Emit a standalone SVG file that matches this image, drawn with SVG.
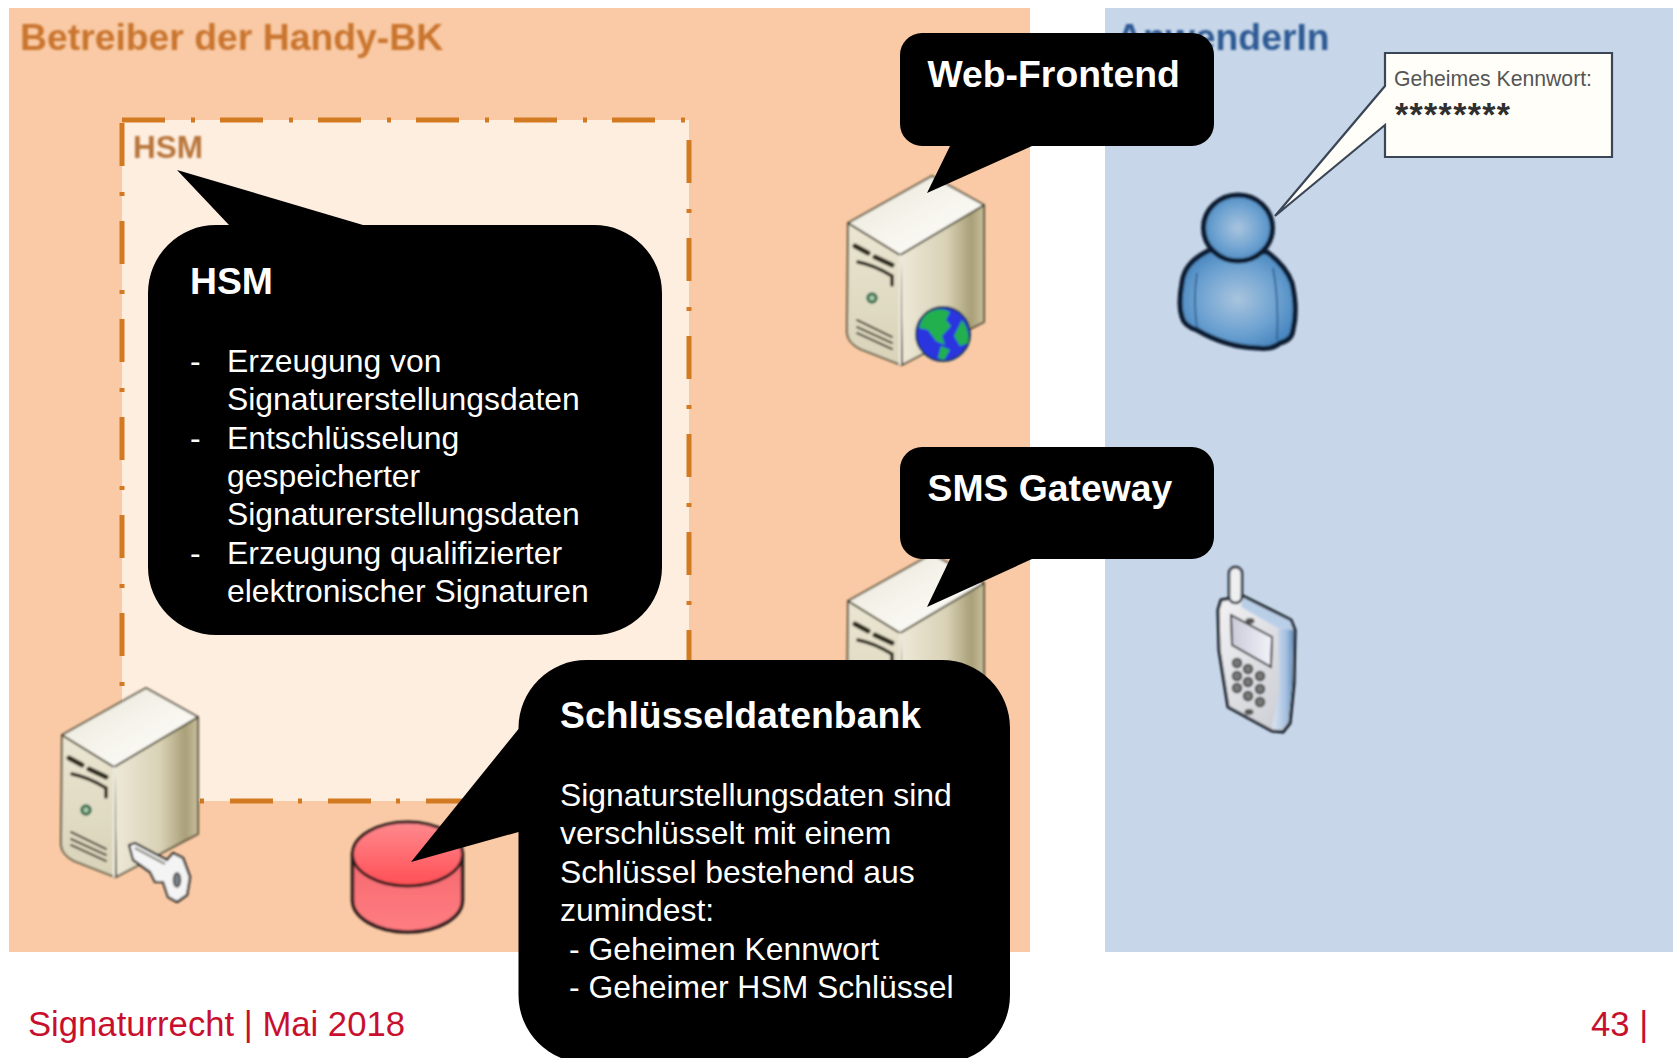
<svg xmlns="http://www.w3.org/2000/svg" xmlns:xlink="http://www.w3.org/1999/xlink" width="1677" height="1058" viewBox="0 0 1677 1058">
<style>
text{font-family:"Liberation Sans",Arial,sans-serif}
.h{font-size:37.33px;font-weight:700;fill:#fff}
.b{font-size:31.9px;fill:#fff}
.f{font-size:34.67px;fill:#C8102E}
.d{stroke:#D27A22;stroke-width:5;fill:none;stroke-dasharray:43 26 4 25}
.co{fill:#000}
</style>
<defs>
<filter id="soft" x="-10%" y="-10%" width="120%" height="120%"><feGaussianBlur stdDeviation="0.8"/></filter>
<filter id="soft2" x="-5%" y="-20%" width="110%" height="140%"><feGaussianBlur stdDeviation="0.8"/></filter>
<filter id="softl" filterUnits="userSpaceOnUse" x="100" y="100" width="610" height="720"><feGaussianBlur stdDeviation="0.7"/></filter>
<linearGradient id="srvTop" x1="0" y1="0" x2="1" y2="1"><stop offset="0" stop-color="#E9E5D6"/><stop offset=".5" stop-color="#F6F4EC"/><stop offset="1" stop-color="#FFFFFF"/></linearGradient>
<linearGradient id="srvFront" x1="0" y1="0" x2="0" y2="1"><stop offset="0" stop-color="#EBE6D2"/><stop offset="1" stop-color="#D8D2B8"/></linearGradient>
<linearGradient id="srvSide" x1="0" y1="0" x2="1" y2="0"><stop offset="0" stop-color="#EEE9D8"/><stop offset=".55" stop-color="#D9D2B6"/><stop offset=".85" stop-color="#A99F78"/><stop offset="1" stop-color="#C8BF9E"/></linearGradient>
<radialGradient id="pers" cx=".5" cy=".5" r=".6"><stop offset="0" stop-color="#A9C4DE"/><stop offset=".6" stop-color="#6AA0D0"/><stop offset="1" stop-color="#3F7FBA"/></radialGradient>
<linearGradient id="dbTop" x1="0" y1="0" x2="0" y2="1"><stop offset="0" stop-color="#FF8A8E"/><stop offset="1" stop-color="#FF4F55"/></linearGradient>
<linearGradient id="dbBody" x1="0" y1="0" x2="0" y2="1"><stop offset="0" stop-color="#F5686E"/><stop offset="1" stop-color="#FF7E82"/></linearGradient>
<linearGradient id="phFront" x1="0" y1="0" x2="1" y2="1"><stop offset="0" stop-color="#F2F2F4"/><stop offset="1" stop-color="#C8CAD0"/></linearGradient>
<linearGradient id="phSide" x1="0" y1="0" x2="1" y2="0"><stop offset="0" stop-color="#DDE6F2"/><stop offset=".7" stop-color="#A3BEDE"/><stop offset="1" stop-color="#5F8FBF"/></linearGradient>
<linearGradient id="phScr" x1="0" y1="0" x2="1" y2="0"><stop offset="0" stop-color="#C9CBD8"/><stop offset="1" stop-color="#F2F2FA"/></linearGradient>
<symbol id="server" overflow="visible">
<g stroke="#4A452F" stroke-width="1.8" stroke-linejoin="round">
<path d="M52 82L136 32V149L54 192Z" fill="url(#srvSide)"/>
<path d="M0 50L52 82L53 192L12 176Q0 170 -1 160Z" fill="url(#srvFront)"/>
<path d="M0 50L84 3L136 32L52 82Z" fill="url(#srvTop)"/>
</g>
<path d="M52 82V192" stroke="#FBFAF3" stroke-width="1.8"/>
<g fill="none" stroke="#2E2A1C" stroke-linecap="round">
<path d="M7 73L20 80M27 84L44 92" stroke-width="5"/>
<path d="M10 89Q26 92 44 103V112" stroke-width="3.6"/>
<path d="M9 147L44 164M9 154L44 170M9 160L44 176" stroke-width="2" stroke="#4E4A38"/>
</g>
<circle cx="24" cy="125" r="4.200" fill="#A8C8A8" stroke="#2F6B4A" stroke-width="3"/>
</symbol>
</defs>

<g id="panel-betreiber">
<rect x="9" y="8" width="1021" height="944" fill="#F9CAA5"/>
<text x="20" y="50" font-size="37.33" font-weight="700" fill="#C9752F" filter="url(#soft2)">Betreiber der Handy-BK</text>
</g>
<g id="panel-anwenderin">
<rect x="1105" y="8" width="568" height="944" fill="#C7D6E8"/>
<text x="1116" y="50" font-size="37.33" font-weight="700" fill="#2E5A94" filter="url(#soft2)">AnwenderIn</text>
</g>

<g id="hsm-box">
<rect x="122" y="120" width="567" height="681" fill="#FEEEE0"/>
<g filter="url(#softl)">
<line class="d" x1="122" y1="120" x2="689" y2="120"/>
<line class="d" x1="689" y1="140" x2="689" y2="801"/>
<line class="d" x1="665" y1="801" x2="122" y2="801"/>
<line class="d" x1="122" y1="123" x2="122" y2="801"/>
</g>
<text x="133" y="158" font-size="31.5" font-weight="700" fill="#B8753A" filter="url(#soft2)">HSM</text>
</g>

<g id="server-web" filter="url(#soft)">
<use href="#server" x="848" y="173"/>
<circle cx="943" cy="334" r="27" fill="#2A35E0" stroke="#1B3A4A" stroke-width="2"/>
<path d="M928 313Q940 306 950 312L946 320L951 326L942 336L945 345L936 341L928 330L919 328Q921 318 928 313ZM962 320Q970 330 968 343L960 346L954 336ZM941 346L950 350L944 360L938 358Z" fill="#22B04F"/>
</g>

<g id="server-sms" filter="url(#soft)">
<use href="#server" x="848" y="551"/>
</g>

<g id="server-hsm" filter="url(#soft)">
<use href="#server" x="62" y="685"/>
<path d="M129 845L135 843L167 860L173 853L183 858L190 877L187 895L177 902L168 897L163 882L155 882L150 872L133 860Z" fill="#F4F4F4" stroke="#1E1E1E" stroke-width="2.200" stroke-linejoin="round"/>
<path d="M135 848L165 864" stroke="#8A8A80" stroke-width="2.500"/>
<ellipse cx="177" cy="880" rx="3.500" ry="7" fill="#7A7F86" stroke="#333" stroke-width="1.500"/>
</g>

<g id="database" filter="url(#soft)">
<path d="M352.500 854V900A55 32 0 0 0 462.500 900V854Z" fill="url(#dbBody)" stroke="#2B1A1A" stroke-width="3.500"/>
<ellipse cx="407.500" cy="854" rx="55" ry="32" fill="url(#dbTop)" stroke="#2B1A1A" stroke-width="3"/>
</g>

<g id="person" filter="url(#soft)">
<path d="M1210 250Q1184 262 1182 283Q1178 305 1182 317Q1184 326 1197 330Q1226 347 1257 348Q1272 350 1280 343Q1292 340 1293 330Q1298 310 1292 283Q1286 266 1267 252Z" fill="url(#pers)" stroke="#0A1A30" stroke-width="5" stroke-linejoin="round"/>
<path d="M1197 273Q1193 300 1197 328M1273 268Q1279 300 1277 340" fill="none" stroke="#2A5A8C" stroke-width="1.500"/>
<ellipse cx="1238" cy="228" rx="34.500" ry="33" fill="url(#pers)" stroke="#0A1A30" stroke-width="5"/>
</g>

<g id="phone" filter="url(#soft)">
<path d="M1221 600L1243 596L1291 620L1295 630L1294 683L1290 723L1283 732L1272 731L1228 707L1219 650L1218 610Z" fill="url(#phFront)" stroke="#0E1622" stroke-width="3" stroke-linejoin="round"/>
<path d="M1243 598L1290 621L1293 630L1278 628L1241 607Z" fill="#B9CFE8"/>
<path d="M1278 628L1293 630L1292 683L1288 722L1281 730L1272 729L1279 690Z" fill="url(#phSide)"/>
<rect x="1229" y="567" width="13" height="36" rx="6.500" fill="#EEF0F0" stroke="#1A2230" stroke-width="2.500"/>
<path d="M1231 615L1272 637L1271 667L1232 645Z" fill="url(#phScr)" stroke="#141414" stroke-width="1.800"/>
<ellipse cx="1250" cy="621" rx="4.500" ry="3" fill="#555"/>
<g fill="#777" stroke="#333" stroke-width="1.500">
<circle cx="1237" cy="663" r="4.500"/><circle cx="1248" cy="669" r="4.500"/><circle cx="1260" cy="676" r="4.500"/>
<circle cx="1237" cy="676" r="4.500"/><circle cx="1248" cy="682" r="4.500"/><circle cx="1260" cy="689" r="4.500"/>
<circle cx="1237" cy="688" r="4.500"/><circle cx="1248" cy="696" r="4.500"/><circle cx="1260" cy="702" r="4.500"/>
</g>
<ellipse cx="1249" cy="712" rx="4.500" ry="3" fill="#555"/>
</g>

<g id="password-callout">
<path d="M1385 53H1612V157H1385V125L1275 216L1385 86Z" fill="#FFFEF8" stroke="#3A4656" stroke-width="2.200"/>
<text x="1394" y="86" font-size="22" fill="#555" textLength="198" lengthAdjust="spacingAndGlyphs">Geheimes Kennwort:</text>
<text x="1395" y="126" font-size="34" font-weight="700" fill="#2F2F2F" textLength="115" lengthAdjust="spacing">********</text>
</g>

<g id="callout-web">
<path class="co" d="M922 33H1192A22 22 0 0 1 1214 55V124A22 22 0 0 1 1192 146H1032L927 193L950 146H922A22 22 0 0 1 900 124V55A22 22 0 0 1 922 33Z"/>
<text class="h" x="927.500" y="87">Web-Frontend</text>
</g>
<g id="callout-sms">
<path class="co" d="M922 447H1192A22 22 0 0 1 1214 469V537A22 22 0 0 1 1192 559H1032L927 607L950 559H922A22 22 0 0 1 900 537V469A22 22 0 0 1 922 447Z"/>
<text class="h" x="927.500" y="501">SMS Gateway</text>
</g>
<g id="callout-hsm">
<path class="co" d="M216 225H229L177 170L363 225H594A68 68 0 0 1 662 293V567A68 68 0 0 1 594 635H216A68 68 0 0 1 148 567V293A68 68 0 0 1 216 225Z"/>
<text class="h" x="190" y="294">HSM</text>
<g class="b">
<text x="190" y="372">-</text><text x="227" y="372">Erzeugung von</text>
<text x="227" y="410">Signaturerstellungsdaten</text>
<text x="190" y="449">-</text><text x="227" y="449">Entschlüsselung</text>
<text x="227" y="487">gespeicherter</text>
<text x="227" y="525">Signaturerstellungsdaten</text>
<text x="190" y="564">-</text><text x="227" y="564">Erzeugung qualifizierter</text>
<text x="227" y="602">elektronischer Signaturen</text>
</g>
</g>
<g id="callout-db">
<path class="co" d="M586.500 660H942A68 68 0 0 1 1010 728V995A68 68 0 0 1 942 1063H586.500A68 68 0 0 1 518.500 995V832L411 862L518.500 729V728A68 68 0 0 1 586.500 660Z"/>
<text class="h" x="560" y="728">Schlüsseldatenbank</text>
<g class="b">
<text x="560" y="806">Signaturstellungsdaten sind</text>
<text x="560" y="844">verschlüsselt mit einem</text>
<text x="560" y="883">Schlüssel bestehend aus</text>
<text x="560" y="921">zumindest:</text>
<text x="569" y="960">- Geheimen Kennwort</text>
<text x="569" y="998">- Geheimer HSM Schlüssel</text>
</g>
</g>

<g id="footer">
<text class="f" x="28" y="1036">Signaturrecht | Mai 2018</text>
<text class="f" x="1591" y="1036">43 |</text>
</g>
</svg>
